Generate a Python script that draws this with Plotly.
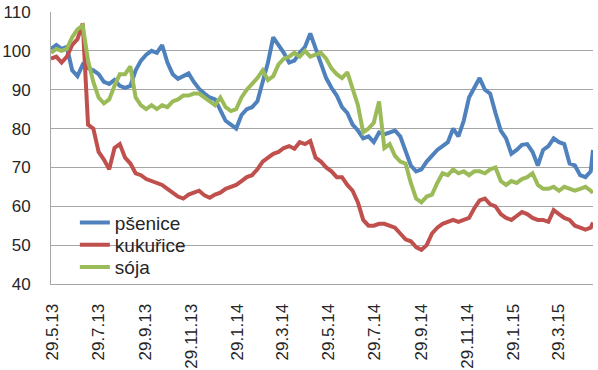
import pandas as pd
import plotly.graph_objects as go

# weekly observation dates (Mon), last point mid-May 2015
dates = list(pd.date_range("2013-05-27", periods=103, freq="7D")) + [pd.Timestamp("2015-05-14")]

psenice = [100.5, 101.5, 100.5, 101, 95, 93.5, 96.5, 95.5, 95, 94,
           92, 91.5, 92.5, 91, 90.5, 91, 95, 97.5, 99, 100,
           99.5, 101.5, 97, 94, 92.8, 93.5, 94.2, 92, 90.2, 89,
           88, 87.5, 84.5, 82, 81, 80, 83.5, 85, 85.5, 87,
           92, 97, 103.5, 101.5, 99.5, 97, 97.5, 99.5, 101, 104.5,
           100.5, 97, 93, 90.5, 88.5, 85.5, 84, 81, 79.5, 77.5,
           78, 76.5, 79, 78.5, 79, 79.5, 78, 74, 70.5, 69,
           69.5, 71.5, 73, 74.5, 75.5, 76.5, 80, 78, 82, 88,
           90.5, 93, 90, 89, 84, 79.5, 77.5, 73.5, 74.5, 75.8,
           76, 74, 70.5, 74.5, 75.5, 77.5, 76.5, 76, 71, 70.5,
           68, 67.5, 69, 74.5]

kukurice = [98, 98.5, 97, 98.5, 101.5, 103, 107, 81, 80, 74,
            72, 69.5, 75, 76, 72.5, 71, 68.5, 68, 67, 66.5,
            66, 65.5, 64.5, 63.5, 62.5, 62, 63, 63.5, 64, 62.8,
            62.2, 63, 63.5, 64.5, 65, 65.5, 66.5, 67.5, 68, 69.5,
            71.5, 72.5, 73.5, 74, 75, 75.5, 74.8, 76.5, 76, 76.8,
            72.5, 71.5, 70, 69, 67.5, 67.5, 65.5, 64, 61, 56.5,
            55, 55, 55.5, 55.5, 55, 54.5, 53, 51.5, 51, 49.5,
            48.8, 50, 53, 54.5, 55.5, 56, 56.5, 56, 56.5, 57,
            59.5, 61.5, 62, 60.5, 60, 58, 57, 56.5, 57.5, 58.5,
            58, 57, 56.5, 56.5, 56, 59, 58, 57, 56.5, 55,
            54.5, 54, 54.5, 55.8]

soja = [99.5, 100.5, 100, 100.5, 103.5, 105.5, 106.5, 97.5, 92, 88,
        86.5, 87.5, 91, 94, 94, 96, 88, 86, 85, 86,
        85, 86, 85.5, 87, 87.5, 88.5, 88.5, 89, 89, 88,
        87, 86, 88, 85.5, 84.5, 85, 88, 90, 91.5, 93,
        95, 92.5, 93.5, 96.5, 98, 98.5, 99.5, 98.5, 100, 98.5,
        99, 99.5, 98, 95.5, 94, 93, 94.5, 90, 86, 79,
        80, 81.5, 87, 75, 76, 73, 71.5, 71, 66, 62,
        61, 62.5, 63, 66, 68.5, 68, 69.5, 68.5, 69, 68,
        69, 69, 68.5, 69.5, 70, 66.5, 65.5, 66.5, 66, 67,
        67.5, 68.5, 65.5, 64.5, 64.5, 65, 64, 65, 64.5, 64,
        64.5, 65, 64, 63.5]

series_names = ["pšenice", "kukuřice", "sója"]
series_colors = ["#4F81BD", "#C0504D", "#9BBB59"]

tick_dates = ["2013-05-29", "2013-07-29", "2013-09-29", "2013-11-29", "2014-01-29",
              "2014-03-29", "2014-05-29", "2014-07-29", "2014-09-29", "2014-11-29",
              "2015-01-29", "2015-03-29"]
tick_labels = ["29.5.13", "29.7.13", "29.9.13", "29.11.13", "29.1.14", "29.3.14",
               "29.5.14", "29.7.14", "29.9.14", "29.11.14", "29.1.15", "29.3.15"]

FONT = "Liberation Sans"
GRID = "#A6A6A6"
TEXT = "#262626"

legend_ids = ["legend", "legend2", "legend3"]
legend_rows = [0.226, 0.1434, 0.062]   # paper-y of each legend row

fig = go.Figure()
for name, vals, col, lid in zip(series_names, [psenice, kukurice, soja], series_colors, legend_ids):
    fig.add_trace(go.Scatter(x=dates, y=vals, name=name, mode="lines", legend=lid,
                             line=dict(color=col, width=4)))

# white area behind the legend (hides gridlines there)
fig.add_shape(type="rect", xref="paper", yref="y", x0=0.002, x1=0.297, y0=40.2, y1=61,
              fillcolor="white", line_width=0, layer="between")
fig.add_shape(type="rect", xref="paper", yref="y", x0=0.29, x1=0.395, y0=40.2, y1=52,
              fillcolor="white", line_width=0, layer="between")

legend_common = dict(x=0.044, xanchor="left", yanchor="middle", bgcolor="rgba(0,0,0,0)",
                     font=dict(family=FONT, size=19, color=TEXT), itemwidth=30)
legends = {lid: dict(legend_common, y=yy) for lid, yy in zip(legend_ids, legend_rows)}

fig.update_layout(
    width=598, height=370,
    margin=dict(l=51, r=5, t=12, b=86, autoexpand=False),
    paper_bgcolor="white", plot_bgcolor="white",
    font=dict(family=FONT, size=17, color=TEXT),
    showlegend=True,
    xaxis=dict(range=["2013-05-27", "2015-05-14"], showgrid=False, automargin=False,
               showline=True, linecolor=GRID, linewidth=1,
               tickmode="array", tickvals=tick_dates, ticktext=tick_labels,
               tickangle=-90, ticks="", ticklabelstandoff=12, zeroline=False),
    yaxis=dict(range=[40, 110], dtick=10, tick0=40, showgrid=True, gridcolor=GRID,
               gridwidth=1, showline=True, linecolor=GRID, linewidth=1, automargin=False,
               ticks="", ticklabelstandoff=16, zeroline=False),
    **legends,
)

fig.write_html("out.html", config={"displayModeBar": False},
               post_script="document.body.style.margin='0';")
